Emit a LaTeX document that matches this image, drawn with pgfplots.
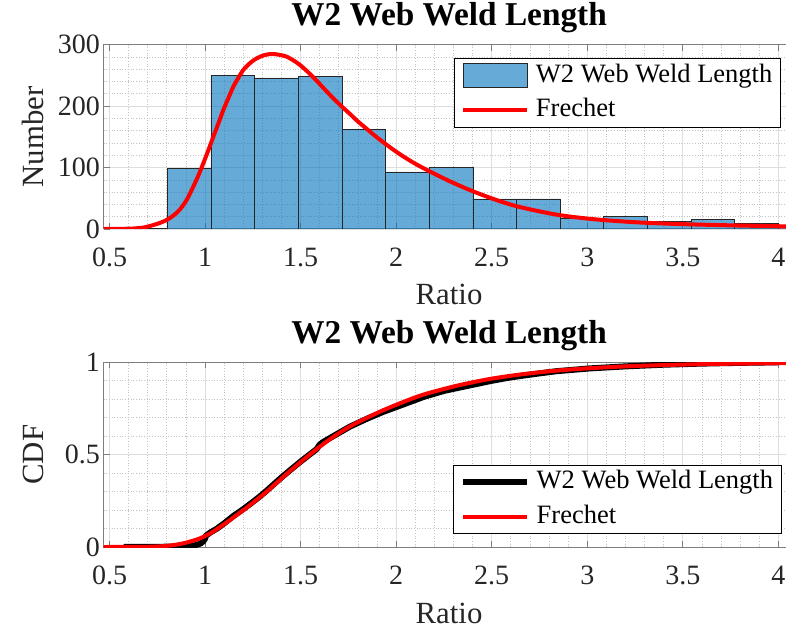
\documentclass[border=0pt]{standalone}
\usepackage{fontspec}
\setmainfont{Liberation Serif}
\usepackage{pgfplots}
\pgfplotsset{compat=1.18}

\definecolor{barblue}{rgb}{0,0.447,0.741}
\definecolor{axgray}{RGB}{125,125,125}
\definecolor{majgrid}{RGB}{222,222,222}
\definecolor{mingrid}{RGB}{195,195,195}
\definecolor{ticktext}{RGB}{38,38,38}

\pgfplotsset{
  myaxis/.style={
    scale only axis, width=691.1pt,
    xmin=0.4686, xmax=4.085,
    xtick={0.5,1,1.5,2,2.5,3,3.5,4},
    xticklabels={0.5,1,1.5,2,2.5,3,3.5,4},
    minor x tick num=4, minor y tick num=4,
    grid=both,
    major grid style={draw=majgrid, line width=0.7pt},
    minor grid style={draw=mingrid, line width=0.7pt, dotted},
    tick align=inside, major tick length=6pt, minor tick length=0pt,
    tick style={draw=axgray, line width=0.9pt},
    axis line style={draw=axgray, line width=1pt},
    /pgf/number format/assume math mode=true,
    ticklabel style={font=\fontsize{28}{32}\selectfont, text=ticktext},
    x tick label style={anchor=base, yshift=-37.7pt},
    title style={font=\bfseries\fontsize{33.3}{37}\selectfont, at={(axis description cs:0.5,1)}, anchor=base, yshift=13pt},
    xlabel style={font=\fontsize{30.8}{34}\selectfont, text=ticktext, at={(axis description cs:0.5,0)}, anchor=base, yshift=-76pt},
    ylabel style={font=\fontsize{30.8}{34}\selectfont, text=ticktext, at={(axis description cs:-0.0868,0.5)}, anchor=base},
    legend cell align=left,
    legend style={draw=black, line width=0.8pt, fill=white,
      font=\fontsize{26.5}{30}\selectfont,
      inner xsep=6.7pt, inner ysep=0.6pt,
      nodes={inner xsep=1.3pt, inner ysep=4pt, text height=19pt, text depth=5.5pt},
      row sep=2pt, column sep=5.4pt},
  }
}

\begin{document}
\begin{tikzpicture}
\begin{axis}[myaxis, at={(103.5pt,400pt)}, anchor=south west, height=184.3pt,
  ymin=0, ymax=300, ytick={0,100,200,300},
  title={W2 Web Weld Length}, xlabel={Ratio}, ylabel={Number},
  legend style={at={(axis description cs:0.9799,0.926)}, anchor=north east}]
\addplot[ybar interval, fill=barblue, fill opacity=0.6, draw=black!85, line width=0.7pt,
  legend image code/.code={\draw[fill=barblue, fill opacity=0.6, draw=black!85, line width=0.8pt] (0pt,-12pt) rectangle (64pt,12pt);}]
coordinates {
(0.5741,1) (0.8025,99) (1.0309,250) (1.2593,246) (1.4877,248) (1.7161,162)
(1.9445,93) (2.1729,100) (2.4013,49) (2.6297,49) (2.8581,17) (3.0865,20)
(3.3149,12) (3.5433,15) (3.7717,9) (4.0001,9)
};
\addlegendentry{W2 Web Weld Length}
\addplot[red, line width=4pt, smooth, no markers, line join=round,
  legend image code/.code={\draw[red, line width=4pt] (0pt,0pt) -- (64pt,0pt);}]
coordinates {
(0.4686,0) (0.55,0.2) (0.6245,0.8) (0.68,2.5) (0.712,4.9) (0.76,9.5) (0.799,14.6)
(0.835,22) (0.869,32) (0.905,48) (0.9385,69) (0.965,87) (0.991,107) (1.017,128)
(1.043,150) (1.07,172) (1.0955,193.7) (1.122,213) (1.148,231.7) (1.174,246)
(1.2,258.8) (1.235,270) (1.27,277.8) (1.31,283) (1.349,284.9) (1.39,283.5)
(1.427,280.5) (1.462,274.5) (1.497,267) (1.54,255) (1.584,241.4) (1.627,227)
(1.671,212.8) (1.715,199.5) (1.7585,187.2) (1.80,175) (1.846,163) (1.89,151.5)
(1.933,141) (2.011,123.5) (2.09,108) (2.168,95) (2.282,77.5) (2.4005,61.5)
(2.526,47) (2.631,37) (2.753,28.5) (2.857,22.5) (2.97,18) (3.084,14.6) (3.2,12)
(3.314,10) (3.43,8.6) (3.543,7.5) (3.66,6.6) (3.77,5.8) (3.9,5.0) (4.085,4.1)
};
\addlegendentry{Frechet}
\end{axis}

\begin{axis}[myaxis, at={(103.5pt,82pt)}, anchor=south west, height=184.7pt,
  ymin=0, ymax=1, ytick={0,0.5,1}, yticklabels={0,0.5,1},
  title={W2 Web Weld Length}, xlabel={Ratio}, ylabel={CDF},
  legend style={at={(axis description cs:0.981,0.0704)}, anchor=south east}]
\addplot[black, line width=6pt, no markers, line join=round,
  legend image code/.code={\draw[black, line width=6pt] (0pt,0pt) -- (64pt,0pt);}]
coordinates {
(0.574,0) (0.70,0.0007) (0.80,0.0015) (0.90,0.004) (0.95,0.010) (0.975,0.018)
(0.99,0.03) (1.0,0.045) (1.005,0.062) (1.03,0.08) (1.06,0.098) (1.10,0.128)
(1.148,0.168) (1.2,0.205) (1.235,0.232) (1.28,0.268) (1.3226,0.305) (1.36,0.34)
(1.4095,0.385) (1.45,0.42) (1.497,0.46) (1.54,0.495) (1.584,0.53) (1.60,0.555)
(1.62,0.57) (1.671,0.600) (1.7585,0.652) (1.846,0.694) (1.933,0.732) (2.02,0.765)
(2.142,0.812) (2.25,0.845) (2.317,0.86) (2.4,0.878) (2.491,0.898) (2.58,0.915)
(2.665,0.928) (2.75,0.94) (2.84,0.952) (3.0144,0.967) (3.2,0.978) (3.4,0.987)
(3.6,0.993) (3.8,0.997) (4.0,1.0)
};
\addlegendentry{W2 Web Weld Length}
\addplot[red, line width=4pt, smooth, no markers, line join=round,
  legend image code/.code={\draw[red, line width=4pt] (0pt,0pt) -- (64pt,0pt);}]
coordinates {
(0.4686,0) (0.6245,0.0003) (0.712,0.0015) (0.799,0.006) (0.85,0.013) (0.886,0.02)
(0.93,0.032) (0.9736,0.047) (1.026,0.073) (1.078,0.108) (1.148,0.159) (1.235,0.227)
(1.3226,0.300) (1.4095,0.380) (1.497,0.457) (1.584,0.530) (1.671,0.596)
(1.7585,0.653) (1.846,0.699) (1.933,0.741) (2.02,0.778) (2.142,0.825) (2.317,0.873)
(2.491,0.910) (2.665,0.936) (2.84,0.955) (3.014,0.968) (3.2,0.978) (3.4,0.985)
(3.6,0.990) (3.8,0.993) (4.0,0.995) (4.085,0.996)
};
\addlegendentry{Frechet}
\end{axis}
\pgfresetboundingbox
\path (0pt,0pt) rectangle (786pt,629pt);
\end{tikzpicture}
\end{document}
